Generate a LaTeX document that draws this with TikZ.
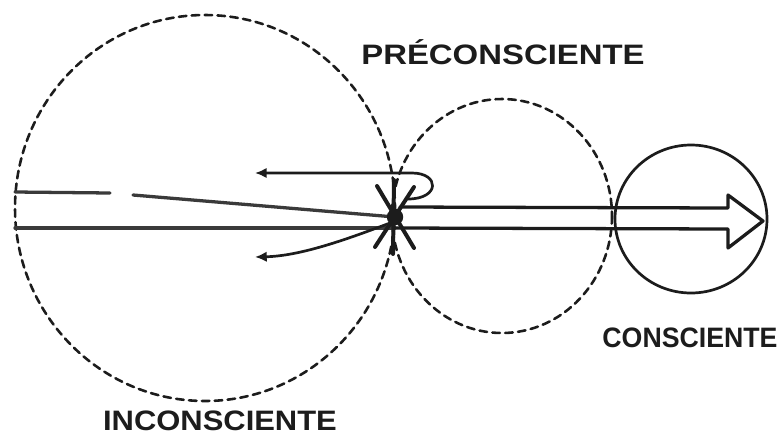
\documentclass[tikz,border=0pt]{standalone}
\usepackage{fontspec}
\setmainfont{Liberation Sans}
\usetikzlibrary{arrows.meta}
\definecolor{FigureInk}{HTML}{1C1C1C}
\definecolor{FigureGrey}{HTML}{3A3A3A}
\newcommand{\zonetext}[2]{\scalebox{#1}[1]{\bfseries #2}}

\begin{document}
\begin{tikzpicture}[x=0.03cm,y=-0.03cm,line cap=round,line join=round,
  zone/.style={FigureInk,line width=2.2pt,dash pattern=on 6.5pt off 4.5pt},
  flow/.style={FigureGrey,line width=2.8pt},
  back/.style={FigureInk,line width=2.3pt,-{Latex[length=10pt,width=9pt]}},
  zonename/.style={FigureInk,inner sep=0pt,font=\fontsize{24}{24}\selectfont}]
  \useasboundingbox (0,0) rectangle (781,438);
  % the three zones
  \coordinate (Ic) at (205,208);\coordinate (Pc) at (502,216);\coordinate (Cc) at (691,219);
  \draw[zone] (Ic) ellipse[x radius=190,y radius=193];
  \draw[zone] (Pc) ellipse[x radius=110,y radius=117];
  \draw[FigureInk,line width=2.3pt] (Cc) ellipse[x radius=76,y radius=74];
  % flow lines
  \coordinate (X) at (395,217);
  \draw[flow] (15,192)--(110,193) (133,195)--(X);
  \draw[flow] (15,228)--(395,228);
  \draw[FigureInk,line width=2.8pt] (400,207)--(728,208)--(728,195)--(763,221)--(728,248)--(728,229)--(395,228);
  % returning arrows
  \draw[back] (408,199) .. controls (440,199) and (440,173) .. (412,173) -- (255,173);
  \draw[back] (390,223) .. controls (345,240) and (300,256) .. (255,257);
  % crossing mark
  \draw[FigureInk,line width=3.4pt] (377,186)--(414,248) (414,187)--(375,247) (394,180)--(393,254);
  \fill[FigureInk] (X) circle (7pt);
  % names
  \node[zonename] (pre) at (503,52) {\zonetext{1.17}{PRÉCONSCIENTE}};
  \node[zonename] (inc) at (220,421) {\zonetext{1.10}{INCONSCIENTE}};
  \node[zonename] (con) at (690,338) {\zonetext{0.95}{CONSCIENTE}};
\end{tikzpicture}
\end{document}
